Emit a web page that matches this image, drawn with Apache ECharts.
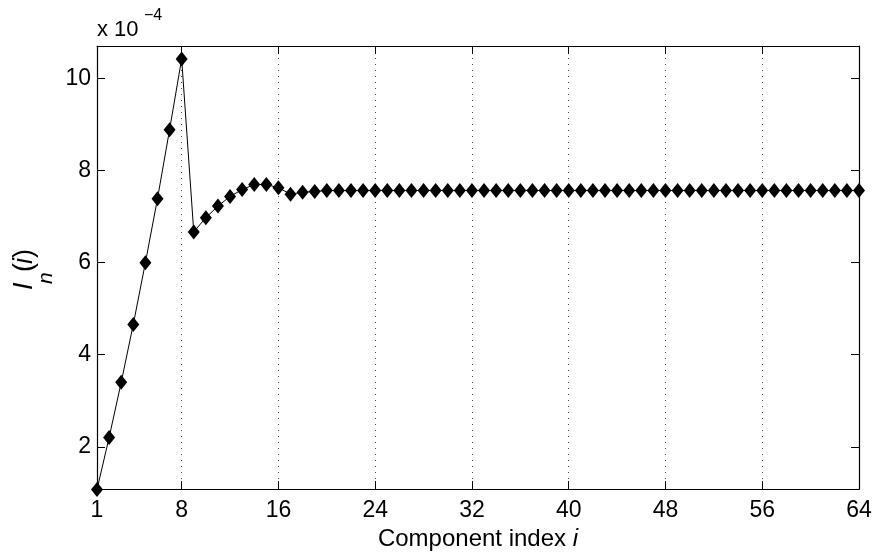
<!DOCTYPE html>
<html>
<head>
<meta charset="utf-8">
<script src="https://cdn.jsdelivr.net/npm/echarts@6/dist/echarts.min.js"></script>
<style>html,body{margin:0;padding:0;background:#fff}#c{width:876px;height:556px}</style>
</head>
<body>
<div id="c"></div>
<script>
// Component index i = 1..64
const indices = Array.from({length: 64}, (_, k) => k + 1);
// I_n(i) values, in units of 1e-4
const valuesE4 = [
  1.07, 2.20, 3.40, 4.66, 6.00, 7.39, 8.89, 10.43,
  6.67, 6.98, 7.23, 7.44, 7.59, 7.70, 7.70, 7.63,
  7.49, 7.53, 7.55, 7.57, 7.57, 7.57, 7.57, 7.57,
  7.57, 7.57, 7.57, 7.57, 7.57, 7.57, 7.57, 7.57,
  7.57, 7.57, 7.57, 7.57, 7.57, 7.57, 7.57, 7.57,
  7.57, 7.57, 7.57, 7.57, 7.57, 7.57, 7.57, 7.57,
  7.57, 7.57, 7.57, 7.57, 7.57, 7.57, 7.57, 7.57,
  7.57, 7.57, 7.57, 7.57, 7.57, 7.57, 7.57, 7.57
];
const xTicks = [1, 8, 16, 24, 32, 40, 48, 56, 64];
const yTicks = [2, 4, 6, 8, 10];
const xRange = [1, 64];
const yRange = [1.08, 10.71];

const FONT = 'Liberation Sans, Arial, Helvetica, sans-serif';
const chart = echarts.init(document.getElementById('c'), null, {renderer: 'canvas'});
const data = indices.map((x, k) => [x, valuesE4[k]]);

const baseX = {
  type: 'value', min: xRange[0], max: xRange[1],
  axisLine: {show: true, onZero: false, lineStyle: {color: '#000', width: 1.2}},
  axisTick: {show: true, inside: true, length: 8, customValues: xTicks, lineStyle: {color: '#000', width: 1}},
  splitLine: {show: false}
};
const baseY = {
  type: 'value', min: yRange[0], max: yRange[1],
  axisLine: {show: true, onZero: false, lineStyle: {color: '#000', width: 1.2}},
  axisTick: {show: true, inside: true, length: 8, customValues: yTicks, lineStyle: {color: '#000', width: 1}},
  splitLine: {show: false}
};

chart.setOption({
  animation: false,
  backgroundColor: '#fff',
  grid: {left: 97, right: 17, top: 46, bottom: 63, containLabel: false},
  xAxis: [
    Object.assign({}, baseX, {
      position: 'bottom',
      axisLabel: {show: true, customValues: xTicks, margin: 10, fontSize: 23, color: '#000', fontFamily: FONT},
      splitLine: {show: true, lineStyle: {color: '#444', width: 1, type: [1, 5]}},
      name: '{a|Component index }{b|i}',
      nameLocation: 'middle', nameGap: 31,
      nameTextStyle: {rich: {
        a: {fontSize: 24, color: '#000', fontFamily: FONT},
        b: {fontSize: 24, color: '#000', fontFamily: FONT, fontStyle: 'italic'}
      }}
    }),
    Object.assign({}, baseX, {position: 'top', axisLabel: {show: false}})
  ],
  yAxis: [
    Object.assign({}, baseY, {
      position: 'left',
      axisLabel: {show: true, customValues: yTicks, margin: 6, fontSize: 23, color: '#000', fontFamily: FONT}
    }),
    Object.assign({}, baseY, {position: 'right', axisLabel: {show: false}})
  ],
  graphic: [
    {type: 'text', left: 97, top: 19, style: {text: 'x 10', font: '22px ' + FONT, fill: '#000'}},
    {type: 'text', left: 144, top: 8, style: {text: '\u22124', font: '16px ' + FONT, fill: '#000'}},
    {type: 'group', x: 38, y: 290, rotation: Math.PI / 2, children: [
      {type: 'text', x: 0, y: 0, style: {text: 'I', font: 'italic 27px ' + FONT, fill: '#000', verticalAlign: 'bottom'}},
      {type: 'text', x: 6, y: 19, style: {text: 'n', font: 'italic 21px ' + FONT, fill: '#000', verticalAlign: 'bottom'}},
      {type: 'text', x: 18, y: 0, style: {text: '(', font: '27px ' + FONT, fill: '#000', verticalAlign: 'bottom'}},
      {type: 'text', x: 26, y: 0, style: {text: 'i', font: 'italic 27px ' + FONT, fill: '#000', verticalAlign: 'bottom'}},
      {type: 'text', x: 32, y: 0, style: {text: ')', font: '27px ' + FONT, fill: '#000', verticalAlign: 'bottom'}}
    ]}
  ],
  series: [{
    type: 'line', xAxisIndex: 0, yAxisIndex: 0, data: data,
    symbol: 'diamond', symbolSize: [12, 15],
    lineStyle: {color: '#000', width: 1},
    itemStyle: {color: '#000'},
    clip: false
  }]
});
</script>
</body>
</html>
